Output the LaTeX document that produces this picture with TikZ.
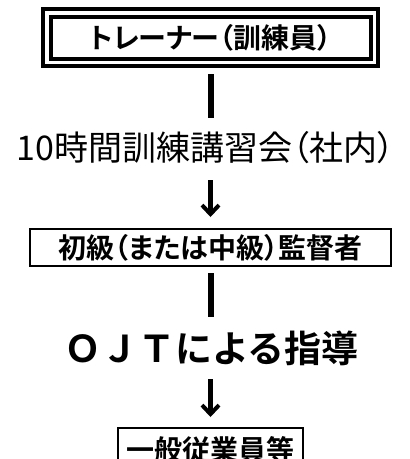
\documentclass[tikz,border=0pt]{standalone}
\usepackage{fontspec}
\setmainfont{Noto Sans CJK JP}[BoldFont={Noto Sans CJK JP Bold}]
\newfontfamily\propjp{Noto Sans CJK JP}[RawFeature=+palt,BoldFont={Noto Sans CJK JP Bold}]
\usepackage{tikz}
\usetikzlibrary{arrows.meta}
\tikzset{title node/.style={draw,line width=4pt,double,double distance=3.5pt,outer sep=0pt,inner sep=0pt,font=\propjp\bfseries\fontsize{28}{28}\selectfont},
         plain box/.style={draw,line width=2pt,outer sep=0pt,inner sep=0pt},
         text node/.style={outer sep=0pt,inner sep=0pt},
         bar line/.style={line width=6pt},
         down arrow/.style={line width=4.5pt,-{Straight Barb[length=9pt,width=17pt,line width=4pt]}}}

\begin{document}
\begin{tikzpicture}[x=1pt,y=-1pt]
            \useasboundingbox (0,0) rectangle (410,459);
            \node[title node,minimum width=327.5pt,minimum height=49.5pt] (trainer) at (210.5,37.5){トレーナー（訓練員）};
            \node[text node,text height=30pt,text depth=4pt,font=\propjp\fontsize{34}{34}\selectfont] (course) at (205.5,147){10時間訓練講習会（社内）};
            \node[plain box,minimum width=361pt,minimum height=37pt,font=\propjp\bfseries\fontsize{28}{28}\selectfont] (supervisor) at (210.5,247.5){初級（または中級）監督者};
            \node[text node,text height=33pt,text depth=4pt,font=\bfseries\fontsize{37}{37}\selectfont] (ojt) at (211.5,347.5){ＯＪＴによる指導};
            \node[plain box,minimum width=185pt,minimum height=44pt,font=\bfseries\fontsize{28}{28}\selectfont] (staff) at (210.5,450){一般従業員等};

            \draw[bar line,shorten <=11.75pt,shorten >=12pt] (trainer.south) -- (trainer.south |- course.north);
            \draw[down arrow,shorten <=16pt,shorten >=12pt] (course.south -| supervisor.north) -- (supervisor.north);
            \draw[bar line,shorten <=7pt,shorten >=12pt] (supervisor.south) -- (supervisor.south |- ojt.north);
            \draw[down arrow,shorten <=13pt,shorten >=11pt] (ojt.south -| staff.north) -- (staff.north);
        \end{tikzpicture}
\end{document}
